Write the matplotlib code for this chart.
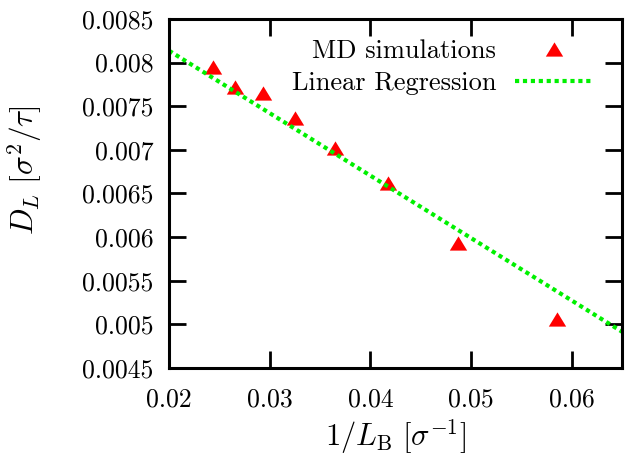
#!/usr/bin/env python3
"""
D_L vs 1/L_B: MD simulations with linear regression
"""

import matplotlib
matplotlib.use("Agg")
import matplotlib.pyplot as plt
from matplotlib.path import Path

# MD simulation data
inv_lb = [0.0244, 0.0266, 0.0293, 0.0325, 0.0365, 0.0418, 0.0487, 0.0585]
d_l = [0.00795, 0.00772, 0.00765, 0.00736, 0.00702, 0.00662, 0.00593, 0.00506]

# linear regression line, endpoints read at the plot edges
fit_x = [0.02, 0.065]
fit_y = [0.008137, 0.004916]

xticks = [0.02, 0.03, 0.04, 0.05, 0.06]
yticks = [0.0045, 0.005, 0.0055, 0.006, 0.0065, 0.007, 0.0075, 0.008, 0.0085]
ytick_labels = ["0.0045", "0.005", "0.0055", "0.006", "0.0065",
                "0.007", "0.0075", "0.008", "0.0085"]

plt.rcParams["font.family"] = ["cmr10", "DejaVu Serif"]
plt.rcParams["mathtext.fontset"] = "cm"
plt.rcParams["axes.formatter.use_mathtext"] = True

fig = plt.figure(figsize=(6.29, 4.58), dpi=100)
W, H = 629, 458
ax = fig.add_axes([169 / W, 1 - 368 / H, (622 - 169) / W, (368 - 19) / H])

# gnuplot-like triangle marker
tri = Path([(-1, -0.82), (1, -0.82), (0, 0.82), (-1, -0.82)],
           [Path.MOVETO, Path.LINETO, Path.LINETO, Path.CLOSEPOLY])

ax.plot(inv_lb, d_l, linestyle="none", marker=tri, markersize=12.5,
        color="#ff0000", markeredgewidth=0, label="MD simulations")
ax.plot(fit_x, fit_y, color="#00f000", linewidth=3.0,
        linestyle=(0, (1.0, 0.9)), label="Linear Regression")

ax.set_xlim(0.02, 0.065)
ax.set_ylim(0.0045, 0.0085)
ax.set_xticks(xticks)
ax.set_xticklabels([f"{t:g}" for t in xticks])
ax.set_yticks(yticks)
ax.set_yticklabels(ytick_labels)

for s in ax.spines.values():
    s.set_linewidth(2.2)
ax.tick_params(direction="in", length=12, width=2.0, top=True, right=True,
               labelsize=18.5)
ax.tick_params(axis="y", pad=11)
ax.tick_params(axis="x", pad=14)

fig.text(396 / W, 1 - 437 / H, r"$1/L_{\rm B}\ [\sigma^{-1}]$",
         ha="center", va="center", fontsize=22)
fig.text(25 / W, 1 - 170 / H, r"$D_L\ [\sigma^2/\tau]$",
         ha="center", va="center", fontsize=22.5, rotation=90)

ax.legend(loc="upper right", bbox_to_anchor=((593 - 169) / 453, 0.942),
          frameon=False, markerfirst=False, numpoints=1, fontsize=19,
          handlelength=2.95, handletextpad=0.72, labelspacing=0.32,
          borderpad=0, borderaxespad=0)

fig.savefig("out.png", dpi=100)
